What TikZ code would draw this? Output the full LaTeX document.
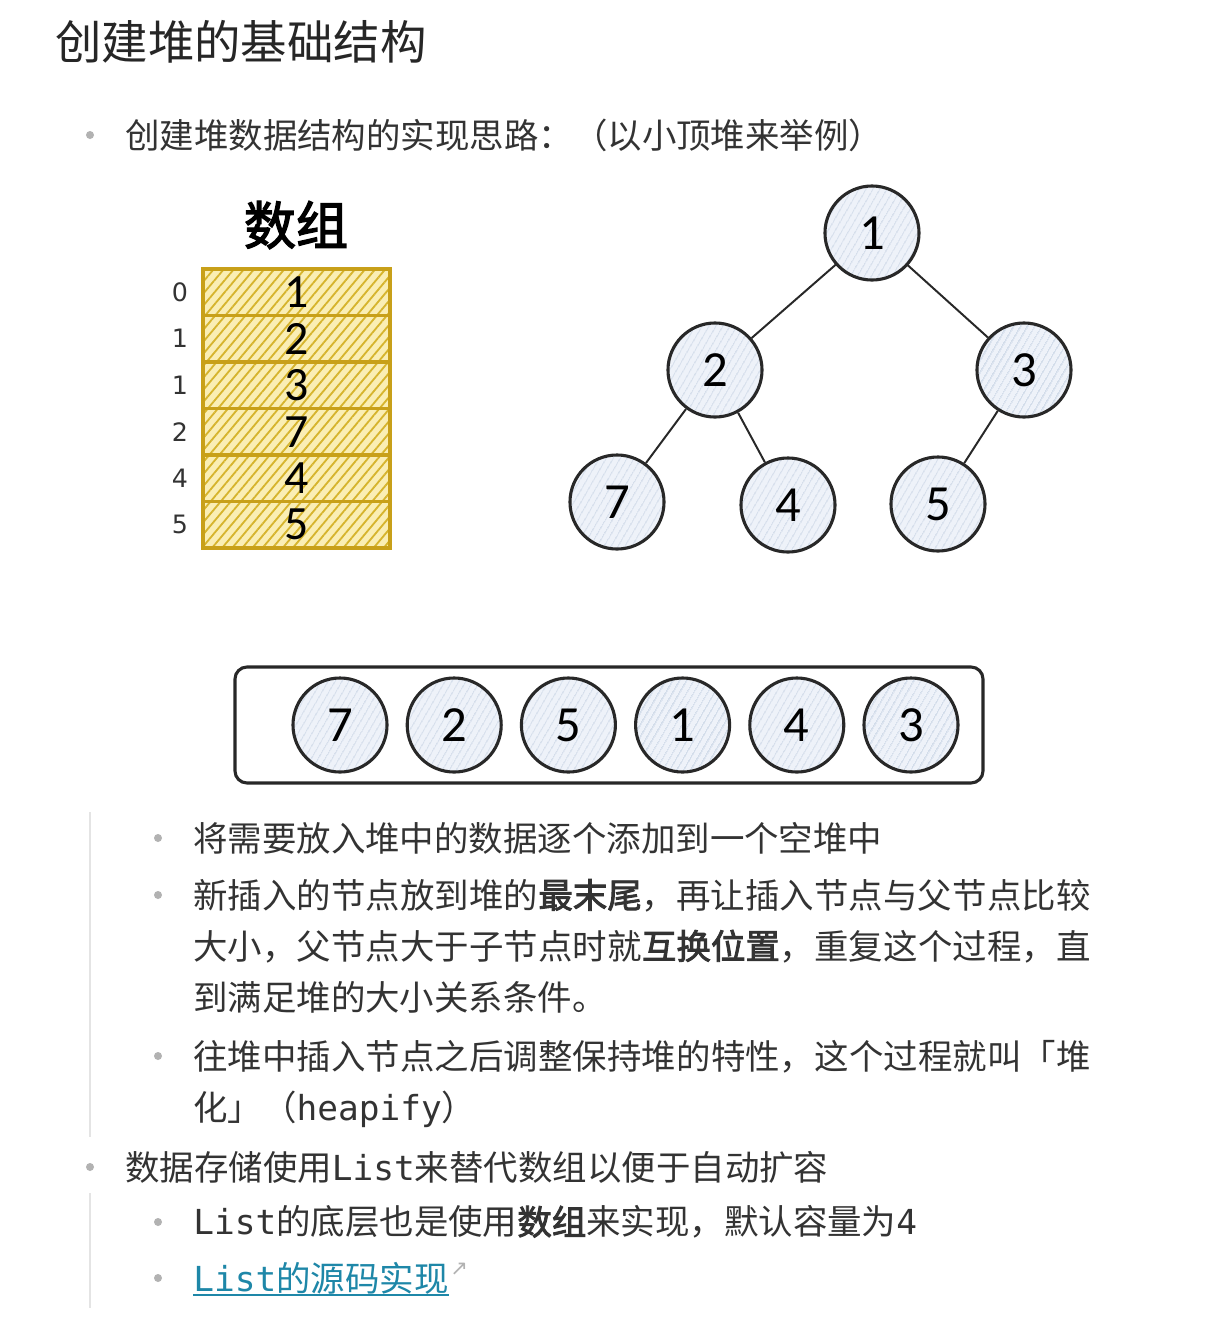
\documentclass[tikz,border=0pt]{standalone}
\usepackage{fontspec}
\usetikzlibrary{patterns.meta}
\setmainfont[AutoFakeBold=2.5]{Noto Sans CJK SC}
\newfontfamily\digitfont{Carlito}
\newfontfamily\idxfont{DejaVu Sans}
\newfontfamily\codefont{DejaVu Sans Mono}
\newfontfamily\symfont{DejaVu Sans}
\XeTeXlinebreaklocale "zh"
\XeTeXlinebreakskip=0pt plus 2pt
\definecolor{color1}{RGB}{51,51,51}
\definecolor{color2}{RGB}{178,178,178}
\definecolor{color3}{RGB}{250,238,180}
\definecolor{color4}{RGB}{214,180,45}
\definecolor{color5}{RGB}{200,160,25}
\definecolor{color6}{RGB}{238,242,249}
\definecolor{color7}{RGB}{198,210,227}
\definecolor{color8}{RGB}{40,40,40}
\definecolor{color9}{RGB}{30,135,168}
\definecolor{color10}{RGB}{228,228,228}

\begin{document}
\begin{tikzpicture}[x=0.025cm,y=-0.025cm,
		txt/.style={anchor=west,inner sep=0pt,text=color1,font=\fontsize{24.5}{36.3}\selectfont},
		para/.style={txt,anchor=base west,text width=22.425cm,align=justify},
		dot/.style={circle,fill=color2,inner sep=0pt,minimum size=0.2cm},
		cell/.style={rectangle,draw=color5,line width=2.2pt,minimum width=4.675cm,minimum height=1.1625cm,inner sep=0pt,preaction={fill=color3},pattern={Lines[angle=50,distance=5.5pt,line width=1.3pt]},pattern color=color4,text=black,font=\digitfont\fontsize{34}{34}\selectfont},
		idx/.style={inner sep=0pt,text=color1,font=\idxfont\fontsize{18}{18}\selectfont},
		hnode/.style={circle,draw=color8,line width=2.2pt,minimum size=2.35cm,inner sep=0pt,preaction={fill=color6},pattern={Lines[angle=60,distance=4pt,line width=0.7pt]},pattern color=color7,text=black,font=\digitfont\fontsize{36}{36}\selectfont},
		edge/.style={draw=color8,line width=1.4pt},
		guide/.style={draw=color10,line width=1.4pt}]
		\path[use as bounding box,fill=white] (0,0) rectangle (1206,1318);
		
		\node[txt,text=black!85,font=\fontsize{33}{40}\selectfont] (title) at (55,42) {创建堆的基础结构};
		\node[dot] (d0) at (90,135) {};
		\node[txt] (t0) at (125,135) {创建堆数据结构的实现思路：（以小顶堆来举例）};
		
		\node[text=black,font=\fontsize{37}{37}\selectfont\bfseries] (arr) at (296,225) {数组};
		\foreach \v/\k [count=\i from 0] in {1/0,2/1,3/1,7/2,4/4,5/5}{
			\node[cell] (c\i) at (296.5,{292.25+46.5*\i}) {\v};
			\node[idx] (k\i) at (180,{292.25+46.5*\i}) {\k};
		}
		
		\node[hnode] (n1) at (872,233) {1};
		\node[hnode] (n2) at (715,370) {2};
		\node[hnode] (n3) at (1024,370) {3};
		\node[hnode] (n7) at (617,502) {7};
		\node[hnode] (n4) at (788,505) {4};
		\node[hnode] (n5) at (938,504) {5};
		\draw[edge] (n1) -- (n2) (n1) -- (n3) (n2) -- (n7) (n2) -- (n4) (n3) -- (n5);
		
		\draw[draw=color8,line width=2.2pt,rounded corners=0.3cm] (235,667) rectangle (983,783);
		\foreach \v [count=\i from 0] in {7,2,5,1,4,3}
			\node[hnode] (r\i) at ({340+114.2*\i},725) {\v};
		
		\draw[guide] (90,812) -- (90,1137) (90,1193) -- (90,1308);
		\node[dot] (d1) at (158,838) {};
		\node[txt] (t1) at (193,838) {将需要放入堆中的数据逐个添加到一个空堆中};
		\node[dot] (d2) at (158,895) {};
		\node[para] (t2) at (193,908) {新插入的节点放到堆的\textbf{最末尾}，再让插入节点与父节点比较\linebreak 大小，父节点大于子节点时就\textbf{互换位置}，重复这个过程，直\linebreak 到满足堆的大小关系条件。};
		\node[dot] (d3) at (158,1056) {};
		\node[para] (t3) at (193,1069) {往堆中插入节点之后调整保持堆的特性，这个过程就叫「堆\linebreak 化」（{\codefont heapify}）};
		\node[dot] (d4) at (90,1167) {};
		\node[txt] (t4) at (125,1167) {数据存储使用{\codefont List}来替代数组以便于自动扩容};
		\node[dot] (d5) at (158,1222) {};
		\node[txt] (t5) at (193,1222) {{\codefont List}的底层也是使用\textbf{数组}来实现，默认容量为{\codefont 4}};
		\node[dot] (d6) at (158,1278) {};
		\node[txt,text=color9] (t6) at (193,1278) {{\codefont List}的源码实现};
		\node[anchor=west,inner sep=1pt,text=color2,font=\symfont\fontsize{15}{15}\selectfont] (ic) at ([yshift=6pt]t6.east) {↗};
		\draw[color9,line width=1.4pt] ([yshift=-3pt]t6.base west) -- ([yshift=-3pt]t6.base east);
		
		\end{tikzpicture}
\end{document}
